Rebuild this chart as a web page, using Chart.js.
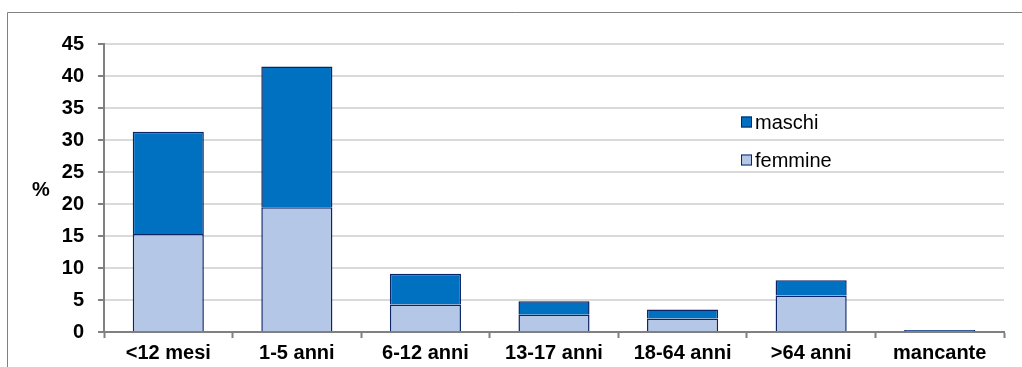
<!DOCTYPE html>
<html>
<head>
<meta charset="utf-8">
<script src="https://cdn.jsdelivr.net/npm/chart.js@4/dist/chart.umd.min.js"></script>
<style>
  html, body { margin: 0; padding: 0; background: #ffffff; }
  #wrap { width: 1022px; height: 367px; position: relative; }
</style>
</head>
<body>
<div id="wrap"><canvas id="chart"></canvas></div>
<script>
// Age groups and share (%) of cases by sex
const categories = ['<12 mesi', '1-5 anni', '6-12 anni', '13-17 anni', '18-64 anni', '>64 anni', 'mancante'];
const femmine = [15.3, 19.5, 4.3, 2.7, 2.1, 5.7, 0.1];
const maschi = [16.0, 22.0, 4.8, 2.1, 1.4, 2.4, 0.2];
const yTicks = [0, 5, 10, 15, 20, 25, 30, 35, 40, 45];

const FONT = '"Liberation Sans", Arial, Helvetica, sans-serif';
const AXIS_GRAY = '#808080';
const BAR_EDGE = '#0b2468';

// Frame, unrotated axis title and a vertical legend inside the plot
const decorations = {
  id: 'decorations',
  beforeDraw(chart) {
    const ctx = chart.ctx;
    ctx.save();
    ctx.strokeStyle = AXIS_GRAY;
    ctx.lineWidth = 1;
    ctx.beginPath();
    ctx.moveTo(7.5, 400);
    ctx.lineTo(7.5, 12.5);
    ctx.lineTo(1030, 12.5);
    ctx.stroke();
    ctx.restore();
  },
  afterDraw(chart) {
    const ctx = chart.ctx;
    ctx.save();
    ctx.fillStyle = '#000000';
    ctx.font = 'bold 20px ' + FONT;
    ctx.textAlign = 'center';
    ctx.textBaseline = 'middle';
    ctx.fillText('%', 41, 190);

    // legend: top-most stack first
    const items = chart.data.datasets.slice().reverse();
    const x0 = 741, y0 = 122, gap = 38, box = 11;
    ctx.font = '20px ' + FONT;
    ctx.textAlign = 'left';
    items.forEach((ds, i) => {
      const cy = y0 + i * gap;
      ctx.fillStyle = ds.backgroundColor;
      ctx.fillRect(x0, cy - box / 2, box, box);
      ctx.strokeStyle = ds.borderColor;
      ctx.lineWidth = 1;
      ctx.strokeRect(x0 + 0.5, cy - box / 2 + 0.5, box - 1, box - 1);
      ctx.fillStyle = '#000000';
      ctx.fillText(ds.label, x0 + box + 3, cy + 1);
    });
    ctx.restore();
  }
};

new Chart(document.getElementById('chart'), {
  type: 'bar',
  data: {
    labels: categories,
    datasets: [
      {
        label: 'femmine',
        data: femmine,
        backgroundColor: '#b4c7e7',
        borderColor: BAR_EDGE,
        borderWidth: 1.5,
        barPercentage: 0.553,
        categoryPercentage: 1.0
      },
      {
        label: 'maschi',
        data: maschi,
        backgroundColor: '#0070c0',
        borderColor: BAR_EDGE,
        borderWidth: 1.5,
        barPercentage: 0.553,
        categoryPercentage: 1.0
      }
    ]
  },
  options: {
    responsive: true,
    maintainAspectRatio: false,
    animation: false,
    layout: { padding: { left: 0, top: 44, right: 18, bottom: 0 } },
    plugins: {
      legend: { display: false },
      tooltip: { enabled: false }
    },
    scales: {
      x: {
        stacked: true,
        offset: true,
        grid: {
          offset: true,
          drawOnChartArea: false,
          drawTicks: true,
          tickLength: 6,
          tickColor: AXIS_GRAY,
          tickWidth: 2
        },
        border: { color: AXIS_GRAY, width: 2 },
        ticks: {
          color: '#000000',
          font: { family: FONT, size: 20, weight: 'bold' },
          padding: 3,
          maxRotation: 0,
          autoSkip: false
        },
        afterFit(scale) { scale.height = 35; }
      },
      y: {
        stacked: true,
        min: 0,
        max: 45,
        afterBuildTicks(scale) { scale.ticks = yTicks.map(v => ({ value: v })); },
        grid: {
          color: '#dadada',
          lineWidth: 2,
          drawTicks: true,
          tickLength: 6,
          tickColor: AXIS_GRAY,
          tickWidth: 2
        },
        border: { color: AXIS_GRAY, width: 2 },
        ticks: {
          color: '#000000',
          font: { family: FONT, size: 20, weight: 'bold' },
          padding: 14
        },
        afterFit(scale) { scale.width = 104; }
      }
    }
  },
  plugins: [decorations]
});
</script>
</body>
</html>
